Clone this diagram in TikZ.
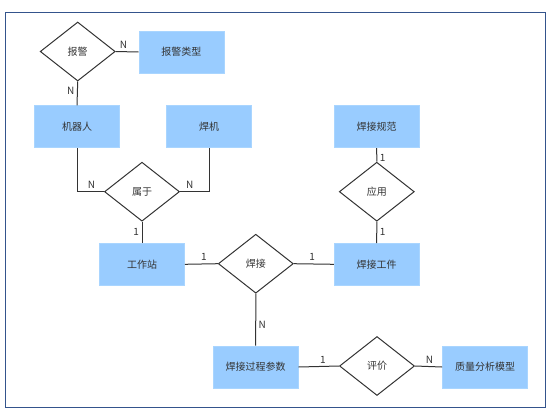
\documentclass[tikz,border=0pt]{standalone}
\usepackage{fontspec}
\setmainfont{Noto Sans CJK SC}
\usepackage{tikz}
\usetikzlibrary{shapes.geometric}
\definecolor{entfill}{HTML}{99CCFF}
\definecolor{entline}{HTML}{A9D5FF}
\definecolor{inkgray}{HTML}{333333}
\definecolor{framec}{HTML}{34548C}

\begin{document}
\begin{tikzpicture}[x=1pt, y=-1pt,
        ent/.style={rectangle, fill=entfill, draw=entline, line width=0.6pt, minimum width=85pt, minimum height=42pt, inner sep=0pt, text=inkgray, font=\fontsize{10}{12}\selectfont},
        rel/.style={diamond, draw=inkgray, line width=1pt, minimum width=75pt, minimum height=59pt, inner sep=0pt, text=inkgray, font=\fontsize{10}{12}\selectfont},
        link/.style={draw=inkgray, line width=1pt},
        card/.style={inner sep=2.5pt, text=inkgray, font=\fontsize{10}{11}\selectfont}]
        \useasboundingbox (0,0) rectangle (552,416);
        \draw[framec, line width=1pt] (5.5,12.5) rectangle (545.3,407.3);
        % entities
        \node[ent] (bjlx) at (181.3, 52) {报警类型};
        \node[ent] (jqr) at (77, 126.7) {机器人};
        \node[ent] (hj) at (209, 126.7) {焊机};
        \node[ent] (hjgf) at (376.7, 126.7) {焊接规范};
        \node[ent] (gzz) at (142, 264.3) {工作站};
        \node[ent] (hjgj) at (376.7, 264.3) {焊接工件};
        \node[ent] (gccs) at (255.7, 367) {焊接过程参数};
        \node[ent] (zlmx) at (485, 367) {质量分析模型};
        % relations
        \node[rel] (bj) at (77.7, 51.5) {报警};
        \node[rel] (sy) at (142, 191.7) {属于};
        \node[rel] (yy) at (376.8, 191.7) {应用};
        \node[rel] (hjr) at (255.8, 263.7) {焊接};
        \node[rel] (pj) at (377, 366) {评价};
        % links
        \draw[link] (bj.east) -- node[card, pos=0.34, above] (c1) {N} (bjlx.west);
        \draw[link] (bj.south) -- node[card, pos=0.41, left] (c2) {N} (jqr.north);
        \draw[link] (jqr.south) |- node[card, pos=0.77, above] (c3) {N} (sy.west);
        \draw[link] (hj.south) |- node[card, pos=0.83, above] (c4) {N} (sy.east);
        \draw[link] (sy.south) -- node[card, pos=0.5, left] (c5) {1} (gzz.north);
        \draw[link] (gzz.east) -- node[card, pos=0.58, above] (c6) {1} (hjr.west);
        \draw[link] (hjr.east) -- node[card, pos=0.46, above] (c7) {1} (hjgj.west);
        \draw[link] (hjgf.south) -- node[card, pos=0.7, right] (c8) {1} (yy.north);
        \draw[link] (yy.south) -- node[card, pos=0.5, right] (c9) {1} (hjgj.north);
        \draw[link] (hjr.south) -- node[card, pos=0.59, right] (c10) {N} (gccs.north);
        \draw[link] (gccs.east) -- node[card, pos=0.6, above] (c11) {1} (pj.west);
        \draw[link] (pj.east) -- node[card, pos=0.53, above] (c12) {N} (zlmx.west);
\end{tikzpicture}
\end{document}
